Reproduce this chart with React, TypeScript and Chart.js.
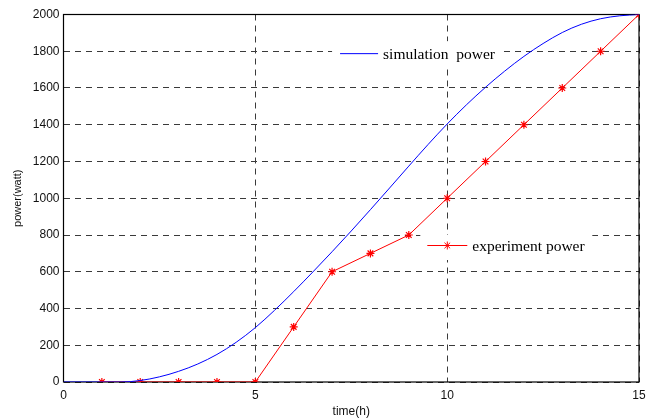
import React, { useEffect, useRef } from "react";
import { Chart, registerables } from "chart.js";

Chart.register(...registerables);

// Simulation curve samples (time in h, power in watt)
const simTime = [0, 0.5, 1, 1.5, 2, 2.5, 3, 3.5, 4, 4.5, 5, 5.5, 6, 6.5, 7, 7.5, 8, 8.5, 9, 9.5, 10, 10.5, 11, 11.5, 12, 12.5, 13, 13.5, 14, 14.5, 15];
const simPower = [0, 0, 0, 0, 8, 28, 58, 98, 150, 216, 296, 390, 492, 599, 709, 822, 938, 1056, 1175, 1292, 1404, 1508, 1604, 1692, 1772, 1842, 1902, 1947, 1977, 1993, 2000];

// Experiment measurements
const expTime = [1, 2, 3, 4, 5, 6, 7, 8, 9, 10, 11, 12, 13, 14, 15];
const expPower = [0, 0, 0, 0, 0, 300, 600, 700, 800, 1000, 1200, 1400, 1600, 1800, 2000];

const xTicks = [0, 5, 10, 15];
const yTicks = [0, 200, 400, 600, 800, 1000, 1200, 1400, 1600, 1800, 2000];

const simLabel = "simulation  power";
const expLabel = "experiment power";

export default function App() {
  const ref = useRef<HTMLCanvasElement>(null);

  useEffect(() => {
    const canvas = ref.current;
    if (!canvas) return;

    const boxPlugin = {
      id: "boxPlugin",
      beforeDatasetsDraw(chart: any) {
        const { ctx, chartArea } = chart;
        ctx.save();
        ctx.strokeStyle = "#000";
        ctx.lineWidth = 1.2;
        ctx.setLineDash([]);
        ctx.strokeRect(chartArea.left, chartArea.top, chartArea.right - chartArea.left, chartArea.bottom - chartArea.top);
        ctx.restore();
      },
      afterDraw(chart: any) {
        const { ctx } = chart;
        const xs = chart.scales.x;
        const ys = chart.scales.y;
        ctx.save();
        // simulation legend
        const sx0 = xs.getPixelForValue(7.0);
        const sy0 = ys.getPixelForValue(1855);
        ctx.fillStyle = "#fff";
        ctx.fillRect(sx0, sy0, 170, 26);
        ctx.strokeStyle = "#0000ff";
        ctx.lineWidth = 1;
        ctx.beginPath();
        ctx.moveTo(sx0 + 8, sy0 + 12.5);
        ctx.lineTo(sx0 + 46, sy0 + 12.5);
        ctx.stroke();
        ctx.fillStyle = "#000";
        ctx.font = "15.5px 'Liberation Serif'";
        ctx.textBaseline = "middle";
        ctx.textAlign = "left";
        ctx.fillText(simLabel, sx0 + 51, sy0 + 14);
        // experiment legend
        const ex0 = xs.getPixelForValue(9.3);
        const ey0 = ys.getPixelForValue(800);
        ctx.fillStyle = "#fff";
        ctx.fillRect(ex0, ey0, 172, 25);
        ctx.strokeStyle = "#ff0000";
        ctx.beginPath();
        ctx.moveTo(ex0 + 7, ey0 + 10.5);
        ctx.lineTo(ex0 + 47, ey0 + 10.5);
        ctx.stroke();
        // star marker
        const mx = ex0 + 27, my = ey0 + 10.5, r = 4;
        ctx.beginPath();
        ctx.moveTo(mx - r, my); ctx.lineTo(mx + r, my);
        ctx.moveTo(mx, my - r); ctx.lineTo(mx, my + r);
        const d = r * 0.707;
        ctx.moveTo(mx - d, my - d); ctx.lineTo(mx + d, my + d);
        ctx.moveTo(mx - d, my + d); ctx.lineTo(mx + d, my - d);
        ctx.stroke();
        ctx.fillStyle = "#000";
        ctx.fillText(expLabel, ex0 + 52, ey0 + 12);
        ctx.restore();
      },
    };

    const grid = {
      color: "#3a3a3a",
      lineWidth: 1,
      drawTicks: false,
    };

    const tickFont = { family: "'Liberation Sans', Arial", size: 12 };

    const chart = new Chart(canvas, {
      type: "line",
      data: {
        datasets: [
          {
            label: "simulation power",
            data: simTime.map((t, i) => ({ x: t, y: simPower[i] })),
            borderColor: "#0000ff",
            borderWidth: 1,
            pointRadius: 0,
            cubicInterpolationMode: "monotone",
            fill: false,
          },
          {
            label: "experiment power",
            data: expTime.map((t, i) => ({ x: t, y: expPower[i] })),
            borderColor: "#ff0000",
            backgroundColor: "#ff0000",
            borderWidth: 1,
            pointStyle: "star",
            pointRadius: 4,
            pointBorderColor: "#ff0000",
            pointBorderWidth: 1.2,
            tension: 0,
            fill: false,
          },
        ],
      },
      options: {
        animation: false,
        responsive: false,
        events: [],
        layout: { padding: { top: 14.5, right: 17, left: 0, bottom: 0 } },
        plugins: { legend: { display: false }, tooltip: { enabled: false } },
        scales: {
          x: {
            type: "linear",
            min: 0,
            max: 15,
            afterBuildTicks: (s: any) => { s.ticks = xTicks.map((v) => ({ value: v })); },
            afterFit: (s: any) => { s.height = 37; },
            grid: { ...grid } as any,
            border: { display: false, dash: [6, 5] },
            ticks: {
              padding: 6,
              color: "#111",
              font: tickFont,
              maxRotation: 0,
              callback: (v: any) => String(v),
            },
            title: {
              display: true,
              text: "time(h)",
              color: "#111",
              font: tickFont,
              padding: 0,
            },
          },
          y: {
            type: "linear",
            min: 0,
            max: 2000,
            afterBuildTicks: (s: any) => { s.ticks = yTicks.map((v) => ({ value: v })); },
            afterFit: (s: any) => { s.width = 63.5; },
            grid: { ...grid } as any,
            border: { display: false, dash: [6, 5] },
            ticks: {
              padding: 4,
              color: "#111",
              font: tickFont,
              callback: (v: any) => String(v),
            },
            title: {
              display: true,
              text: "power(watt)",
              color: "#111",
              font: { family: "'Liberation Sans', Arial", size: 11 },
              padding: 11,
            },
          },
        },
      },
      plugins: [boxPlugin],
    } as any);

    return () => chart.destroy();
  }, []);

  return (
    <div style={{ position: "absolute", left: 0, top: 0, width: 656, height: 419, background: "#fff" }}>
      <canvas ref={ref} width={656} height={419} style={{ width: 656, height: 419, display: "block" }} />
    </div>
  );
}
